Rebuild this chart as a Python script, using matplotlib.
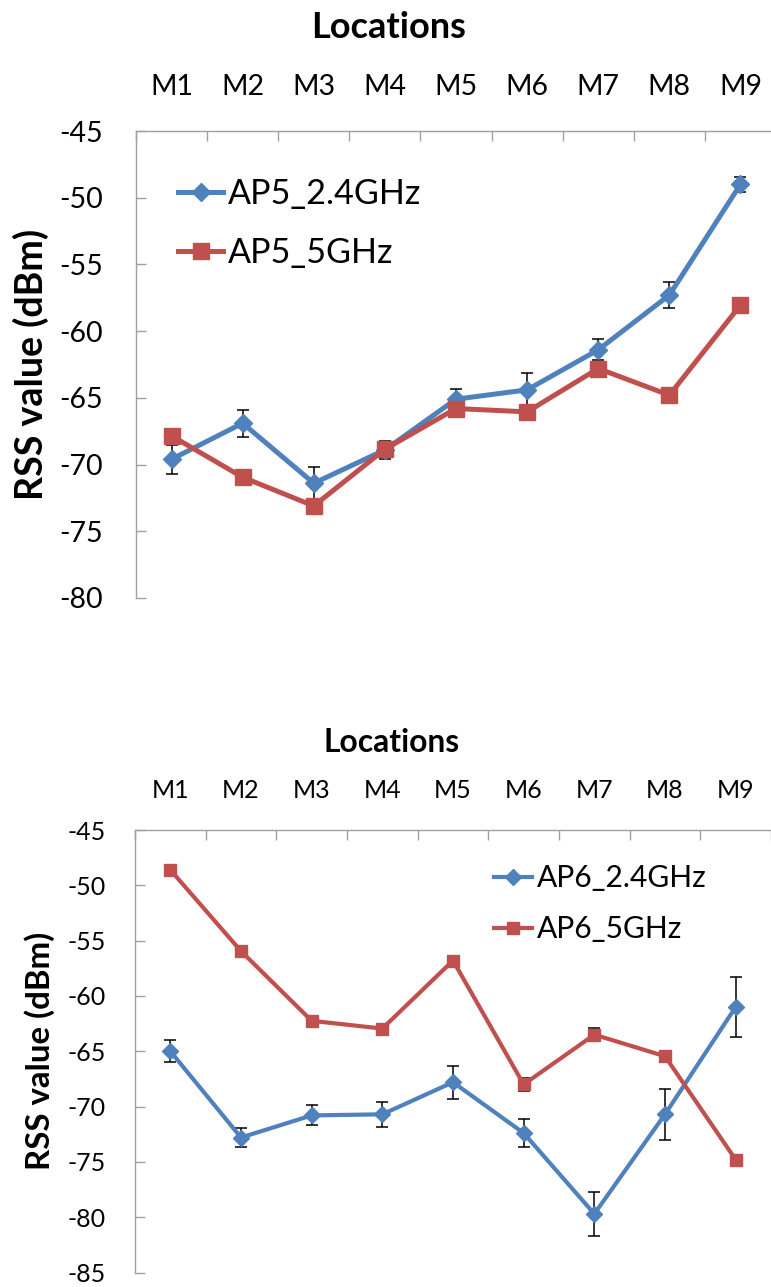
import numpy as np
import matplotlib
matplotlib.use("Agg")
import matplotlib.pyplot as plt
from matplotlib.ticker import FixedLocator

plt.rcParams['font.family'] = ['Lato', 'DejaVu Sans']

locations = ["M1", "M2", "M3", "M4", "M5", "M6", "M7", "M8", "M9"]

# top panel: AP5
ap5_24 = [-69.6, -66.9, -71.4, -68.9, -65.1, -64.4, -61.4, -57.3, -49.0]
ap5_24_err = [1.1, 1.0, 1.2, 0.7, 0.8, 1.3, 0.8, 1.0, 0.55]
ap5_5 = [-67.85, -70.95, -73.1, -68.85, -65.8, -66.05, -62.8, -64.8, -58.05]
ap5_5_err = [0.3, 0.3, 0.55, 0.4, 0.3, 0.55, 0.3, 0.55, 0.3]

# bottom panel: AP6
ap6_24 = [-65.0, -72.8, -70.8, -70.7, -67.8, -72.4, -79.7, -70.7, -61.0]
ap6_24_err = [1.0, 0.85, 0.9, 1.15, 1.5, 1.3, 2.0, 2.3, 2.7]
ap6_5 = [-48.6, -55.95, -62.25, -62.95, -56.8, -68.0, -63.5, -65.45, -74.8]
ap6_5_err = [0.4, 0.3, 0.3, 0.3, 0.3, 0.6, 0.58, 0.5, 0.3]

BLUE = "#4F81BD"
RED = "#C0504D"
GRAY = "#A0A0A0"

W, H = 771, 1287
fig = plt.figure(figsize=(W / 100, H / 100), dpi=100)


def panel(rect, ylim, yticks, s24, e24, s5, e5, names, fs, lw, ms, tickpad, legend_xy, hl, lab_x, loc_xy):
    ax = fig.add_axes(rect)
    x = np.arange(1, len(locations) + 1)
    ax.errorbar(x, s24, yerr=e24, fmt="none", ecolor="black", elinewidth=1.1,
                capsize=4.5, capthick=1.1, zorder=2)
    ax.plot(x, s24, color=BLUE, lw=lw, marker="D", ms=ms * 0.85, label=names[0], zorder=3)
    ax.errorbar(x, s5, yerr=e5, fmt="none", ecolor="black", elinewidth=1.1,
                capsize=4.5, capthick=1.1, zorder=4)
    ax.plot(x, s5, color=RED, lw=lw, marker="s", ms=ms, label=names[1], zorder=5)

    ax.set_xlim(0.5, len(locations) + 0.5)
    ax.set_ylim(*ylim)
    ax.set_yticks(yticks)
    ax.set_yticklabels([str(t) for t in yticks])

    ax.xaxis.set_major_locator(FixedLocator(np.arange(0.5, len(locations) + 1, 1.0)))
    ax.xaxis.set_minor_locator(FixedLocator(x))
    ax.xaxis.set_major_formatter(plt.NullFormatter())
    ax.set_xticks(x, minor=True)
    ax.set_xticklabels(locations, minor=True)
    ax.tick_params(axis="x", which="major", top=True, bottom=False, direction="in",
                   length=7, width=1, color=GRAY, labeltop=False, labelbottom=False)
    ax.tick_params(axis="x", which="minor", top=True, bottom=False, length=0,
                   labeltop=True, labelbottom=False, labelsize=fs, pad=tickpad[0])
    ax.tick_params(axis="y", which="major", left=True, direction="in", length=7,
                   width=1, color=GRAY, labelsize=fs, pad=tickpad[1])

    for side in ["right", "bottom"]:
        ax.spines[side].set_visible(False)
    for side in ["top", "left"]:
        ax.spines[side].set_color(GRAY)
        ax.spines[side].set_linewidth(1)

    ax.legend(loc="upper left", bbox_to_anchor=legend_xy, bbox_transform=fig.transFigure,
              frameon=False, fontsize=fs * 1.2, handlelength=hl, handletextpad=0.15,
              labelspacing=0.78, borderpad=0, borderaxespad=0)

    pos = ax.get_position()
    fig.text(lab_x, (pos.y0 + pos.y1) / 2, "RSS value (dBm)", rotation=90, ha="center",
             va="center", fontsize=fs * 1.32, fontweight="bold")
    fig.text(loc_xy[0], loc_xy[1], "Locations", ha="center", va="center",
             fontsize=fs * 1.27, fontweight="bold")
    return ax


panel([136 / W, 1 - 598 / H, 640 / W, 467 / H], (-80, -45), list(range(-80, -44, 5)),
      ap5_24, ap5_24_err, ap5_5, ap5_5_err, ["AP5_2.4GHz", "AP5_5GHz"],
      fs=20.5, lw=3.6, ms=11, tickpad=(22, 24),
      legend_xy=(178 / W, 1 - 178 / H), hl=1.32, lab_x=31 / W, loc_xy=(389 / W, 1 - 28 / H))

panel([135 / W, 1 - 1272.5 / H, 636 / W, 442.5 / H], (-85, -45), list(range(-85, -44, 5)),
      ap6_24, ap6_24_err, ap6_5, ap6_5_err, ["AP6_2.4GHz", "AP6_5GHz"],
      fs=18, lw=3.0, ms=9, tickpad=(20, 21),
      legend_xy=(494 / W, 1 - 864 / H), hl=1.27, lab_x=40 / W, loc_xy=(392 / W, 1 - 742 / H))

fig.savefig("out.png", dpi=100)
